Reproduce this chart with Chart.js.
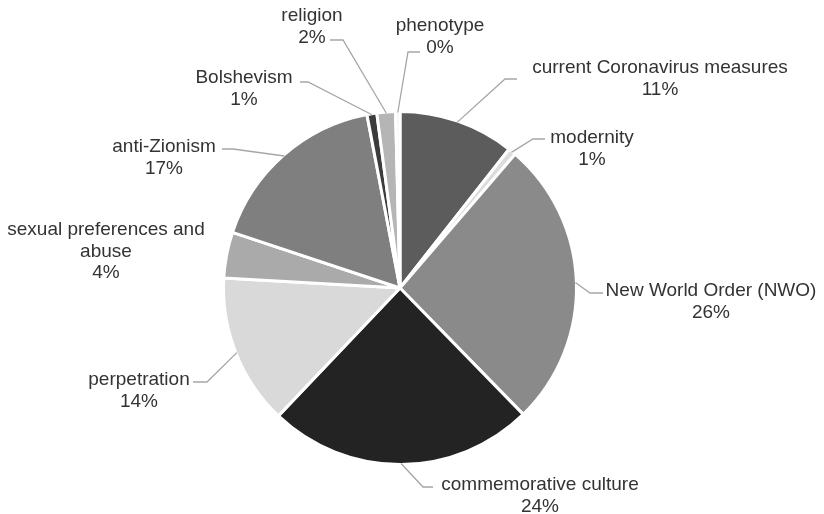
<!DOCTYPE html>
<html>
<head>
<meta charset="utf-8">
<script src="https://cdn.jsdelivr.net/npm/chart.js@4.4.0/dist/chart.umd.min.js"></script>
<style>
  html, body { margin: 0; padding: 0; background: #ffffff; }
  #wrap { width: 824px; height: 514px; }
</style>
</head>
<body>
<div id="wrap"><canvas id="c" width="824" height="514"></canvas></div>
<script>
// Topics, clockwise from 12 o'clock, with their share of all items (%)
const categories = [
  'current Coronavirus measures',
  'modernity',
  'New World Order (NWO)',
  'commemorative culture',
  'perpetration',
  'sexual preferences and abuse',
  'anti-Zionism',
  'Bolshevism',
  'religion',
  'phenotype'
];
const shares = [10.6, 0.7, 26.4, 24.4, 13.8, 4.2, 16.9, 0.9, 1.7, 0.4];

// Greyscale fills per slice
const sliceColors = [
  '#5c5c5c', '#dcdcdc', '#8a8a8a', '#232323', '#d9d9d9',
  '#aaaaaa', '#7f7f7f', '#3c3c3c', '#b5b5b5', '#f4f4f4'
];

// Label placement: wrapped text lines, centre x, first baseline y,
// and the leader line's elbow / end points (null = no leader line)
const labelLayout = [
  { lines: ['current Coronavirus measures'], x: 660, y: 73, leader: [[505, 79], [517, 79]] },
  { lines: ['modernity'], x: 592, y: 143, leader: [[533, 139], [545, 139]] },
  { lines: ['New World Order (NWO)'], x: 711, y: 296, leader: [[590, 293], [603, 293]] },
  { lines: ['commemorative culture'], x: 540, y: 490, leader: [[423, 487], [433, 487]] },
  { lines: ['perpetration'], x: 139, y: 385, leader: [[207, 382], [193, 382]] },
  { lines: ['sexual preferences and', 'abuse'], x: 106, y: 235, leader: null },
  { lines: ['anti-Zionism'], x: 164, y: 152, leader: [[233, 149], [222, 149]] },
  { lines: ['Bolshevism'], x: 244, y: 83, leader: [[308, 82], [300, 82]] },
  { lines: ['religion'], x: 312, y: 21, leader: [[343, 40], [330, 40]] },
  { lines: ['phenotype'], x: 440, y: 31, leader: [[408, 52], [420, 52]] }
];

const total = shares.reduce((a, b) => a + b, 0);
const pctText = v => Math.round(v / total * 100) + '%';

const labelPlugin = {
  id: 'sliceLabels',
  afterDatasetsDraw(chart) {
    const ctx = chart.ctx;
    const arcs = chart.getDatasetMeta(0).data;
    ctx.save();
    // leader lines from each slice's outer edge at its mid-angle
    ctx.strokeStyle = '#a6a6a6';
    ctx.lineWidth = 1.3;
    arcs.forEach((arc, i) => {
      const lay = labelLayout[i];
      if (!lay.leader) return;
      const p = arc.getProps(['x', 'y', 'startAngle', 'endAngle', 'outerRadius'], true);
      const mid = (p.startAngle + p.endAngle) / 2;
      const r = p.outerRadius - 1;
      ctx.beginPath();
      ctx.moveTo(p.x + Math.cos(mid) * r, p.y + Math.sin(mid) * r);
      lay.leader.forEach(pt => ctx.lineTo(pt[0], pt[1]));
      ctx.stroke();
    });
    // category name and percentage
    ctx.fillStyle = '#333333';
    ctx.font = '19px "Liberation Sans", Arial, sans-serif';
    ctx.textAlign = 'center';
    ctx.textBaseline = 'alphabetic';
    const lineGap = 21.5;
    labelLayout.forEach((lay, i) => {
      const rows = lay.lines.concat([pctText(shares[i])]);
      rows.forEach((t, k) => ctx.fillText(t, lay.x, lay.y + k * lineGap));
    });
    ctx.restore();
  }
};

new Chart(document.getElementById('c'), {
  type: 'pie',
  data: {
    labels: categories,
    datasets: [{
      data: shares,
      backgroundColor: sliceColors,
      borderColor: '#ffffff',
      borderWidth: 3,
      hoverOffset: 0
    }]
  },
  options: {
    responsive: false,
    animation: false,
    rotation: 0,
    layout: { padding: { top: 110, bottom: 48, left: 222, right: 246 } },
    plugins: {
      legend: { display: false },
      tooltip: { enabled: false }
    }
  },
  plugins: [labelPlugin]
});
</script>
</body>
</html>
